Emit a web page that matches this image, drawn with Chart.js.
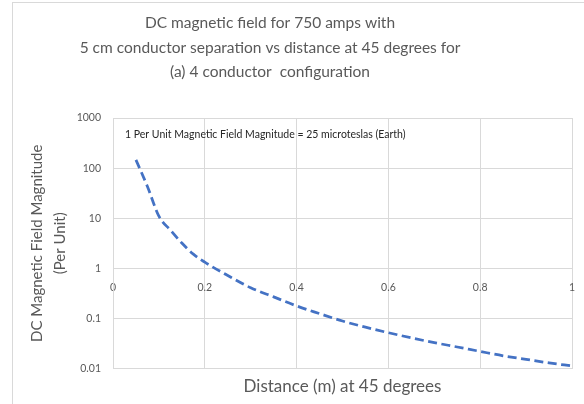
<!DOCTYPE html>
<html><head><meta charset="utf-8">
<script src="https://cdn.jsdelivr.net/npm/chart.js@4.4.1/dist/chart.umd.min.js"></script>
<style>
html,body{margin:0;padding:0;background:#fff;}
#wrap{position:relative;width:584px;height:404px;overflow:hidden;}
#frame{position:absolute;left:12px;top:2px;width:700px;height:500px;border:1px solid #d9d9d9;box-sizing:border-box;}
canvas{position:absolute;left:0;top:0;}
</style></head><body>
<div id="wrap"><div id="frame"></div><canvas id="c" width="584" height="404"></canvas></div>
<script>
const distances = [0.05, 0.075, 0.1, 0.125, 0.15, 0.175, 0.2, 0.25, 0.3, 0.35, 0.4, 0.45, 0.5, 0.55, 0.6, 0.65, 0.7, 0.75, 0.8, 0.85, 0.9, 0.95, 1.0];
const fieldPerUnit = [146, 43, 11, 5.8, 3.2, 1.92, 1.33, 0.72, 0.41, 0.27, 0.178, 0.125, 0.089, 0.067, 0.052, 0.041, 0.033, 0.027, 0.022, 0.018, 0.0153, 0.013, 0.0113];
const xTickValues = [0, 0.2, 0.4, 0.6, 0.8, 1];
const xTickLabels = ['0', '0.2', '0.4', '0.6', '0.8', '1'];
const yTickValues = [0.01, 0.1, 1, 10, 100, 1000];
const yTickLabels = ['0.01', '0.1', '1', '10', '100', '1000'];
const titleLines = ['DC magnetic field for 750 amps with', '5 cm conductor separation vs distance at 45 degrees for', '(a) 4 conductor  configuration'];
const noteText = '1 Per Unit Magnetic Field Magnitude = 25 microteslas (Earth)';
const xTitle = 'Distance (m) at 45 degrees';
const yTitle = ['DC Magnetic Field Magnitude', '(Per Unit)'];

const FONT = 'Lato';
const GRID = '#d9d9d9';
const TXT = '#595959';

const textPlugin = {
  id: 'texts',
  afterDraw(chart) {
    const ctx = chart.ctx;
    ctx.save();
    ctx.fillStyle = TXT;
    ctx.font = '15.5px ' + FONT;
    ctx.textAlign = 'center';
    ctx.textBaseline = 'alphabetic';
    titleLines.forEach((t, i) => ctx.fillText(t, 270, 28 + i * 24.5));
    ctx.fillStyle = '#262626';
    ctx.font = '10.5px ' + FONT;
    ctx.textAlign = 'left';
    ctx.textBaseline = 'middle';
    ctx.fillText(noteText, chart.chartArea.left + 12, chart.chartArea.top + 17);
    ctx.restore();
  }
};

new Chart(document.getElementById('c'), {
  type: 'scatter',
  data: {
    datasets: [{
      data: distances.map((d, i) => ({x: d, y: fieldPerUnit[i]})),
      showLine: true,
      borderColor: '#4472C4',
      borderWidth: 2.75,
      borderDash: [9, 4.5],
      pointRadius: 0,
      tension: 0.4,
      cubicInterpolationMode: 'monotone',
      fill: false
    }]
  },
  options: {
    responsive: false,
    animation: false,
    devicePixelRatio: 1,
    layout: {padding: {top: 118, right: 12, bottom: 3, left: 22}},
    plugins: {legend: {display: false}, tooltip: {enabled: false}, title: {display: false}},
    scales: {
      x: {
        type: 'linear', position: 'bottom', min: 0, max: 1,
        afterBuildTicks: s => { s.ticks = xTickValues.map(v => ({value: v})); },
        ticks: {display: false},
        grid: {color: GRID, drawTicks: false, lineWidth: 1},
        border: {color: GRID},
        title: {display: true, text: xTitle, color: TXT, font: {family: FONT, size: 17, lineHeight: 1.2}, padding: {top: 8, bottom: 4}}
      },
      xTop: {
        type: 'linear', axis: 'x', position: {y: 1}, min: 0, max: 1,
        afterBuildTicks: s => { s.ticks = xTickValues.map(v => ({value: v})); },
        ticks: {color: TXT, font: {family: FONT, size: 10.5}, padding: 5, maxRotation: 0,
          callback: (v, i) => xTickLabels[i]},
        grid: {display: false, drawTicks: true, tickLength: 8},
        border: {display: false}
      },
      y: {
        type: 'logarithmic', min: 0.01, max: 1000,
        afterBuildTicks: s => { s.ticks = yTickValues.map(v => ({value: v})); },
        afterFit: s => { s.width = 91; },
        ticks: {color: TXT, font: {family: FONT, size: 10.5}, padding: 12,
          callback: (v, i) => yTickLabels[i]},
        grid: {color: GRID, drawTicks: false, lineWidth: 1},
        border: {color: GRID},
        title: {display: true, text: yTitle, color: TXT, font: {family: FONT, size: 15, lineHeight: 1.53}, padding: {top: 3.5, bottom: 4}}
      }
    }
  },
  plugins: [textPlugin]
});
</script>
</body></html>
